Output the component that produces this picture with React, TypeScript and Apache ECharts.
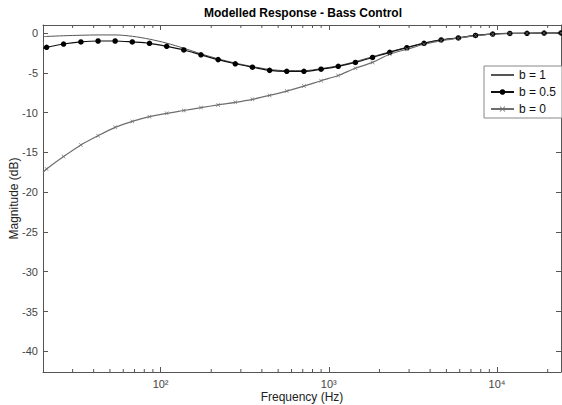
import React, { useEffect, useRef } from "react";
import * as echarts from "echarts";

// Frequencies (Hz) of the plotted marker points
const freqs = [
  21.0, 26.5, 33.6, 42.5, 53.7, 67.9, 85.9, 108.7, 137.4, 173.8, 219.8, 278.0,
  351.6, 444.6, 562.3, 711.2, 899.5, 1137.6, 1438.8, 1819.7, 2301.4, 2910.7,
  3681.3, 4655.9, 5888.4, 7447.3, 9418.9, 11912, 15066, 19055, 24000,
];

// Line start (left edge of the axes) — no marker drawn there
const startFreq = 20;
const startB1 = -0.47;
const startB05 = -1.93;
const startB0 = -17.5;

// Magnitude (dB) for each control setting
const magB1 = [
  -0.44, -0.35, -0.29, -0.25, -0.25, -0.42, -0.78, -1.28, -1.92, -2.62, -3.25,
  -3.78, -4.22, -4.58, -4.74, -4.74, -4.48, -4.12, -3.6, -2.98, -2.37, -1.8,
  -1.26, -0.85, -0.6, -0.28, -0.12, -0.05, -0.03, -0.01, 0,
];
const magB05 = [
  -1.8, -1.39, -1.13, -1.01, -1.01, -1.13, -1.3, -1.68, -2.14, -2.75, -3.35,
  -3.87, -4.3, -4.7, -4.82, -4.82, -4.55, -4.19, -3.7, -3.08, -2.43, -1.85,
  -1.3, -0.88, -0.63, -0.31, -0.14, -0.06, -0.04, -0.01, 0,
];
const magB0 = [
  -17.09, -15.53, -14.07, -12.91, -11.86, -11.11, -10.52, -10.1, -9.74, -9.38,
  -9.04, -8.72, -8.34, -7.85, -7.3, -6.68, -6.0, -5.35, -4.43, -3.7, -2.67,
  -2.05, -1.42, -0.96, -0.66, -0.33, -0.16, -0.07, -0.04, -0.01, 0,
];

const seriesNames = ["b = 1", "b = 0.5", "b = 0"];

// Axis limits and ticks
const X_MIN = 20;
const X_MAX = 24000;
const Y_MIN = -42.6;
const Y_MAX = 1;
const minorTickFreqs = [
  30, 40, 50, 60, 70, 80, 90, 200, 300, 400, 500, 600, 700, 800, 900, 2000,
  3000, 4000, 5000, 6000, 7000, 8000, 9000, 20000,
];
const supDigits: Record<number, string> = { 1: "¹", 2: "²", 3: "³", 4: "⁴" };

const FONT = "'Liberation Sans', Arial, Helvetica, sans-serif";
const AXIS_COLOR = "#555";
const LABEL_COLOR = "#444";

const xLabel = (v: number) => {
  const e = Math.round(Math.log10(v));
  if (Math.abs(v - Math.pow(10, e)) < 1e-6 * v) return "10" + (supDigits[e] || "");
  return "";
};
const yLabel = (v: number) => {
  if (Math.abs(v - Math.round(v)) < 1e-9 && Math.round(v) % 5 === 0) return String(Math.round(v));
  return "";
};

const buildSeriesData = (start: number, mags: number[]) => [
  { value: [startFreq, start], symbol: "none" },
  ...freqs.map((f, i) => [f, mags[i]]),
];

const crossPath =
  "path://M0,1 L1,0 L5,4 L9,0 L10,1 L6,5 L10,9 L9,10 L5,6 L1,10 L0,9 L4,5 Z";

export default function App() {
  const ref = useRef<HTMLDivElement>(null);

  useEffect(() => {
    document.body.style.margin = "0";
    if (!ref.current) return;
    const chart = echarts.init(ref.current, null, { renderer: "svg" });

    const commonX = {
      type: "log",
      logBase: 10,
      min: X_MIN,
      max: X_MAX,
      splitLine: { show: false },
      axisLine: { show: true, onZero: false, lineStyle: { color: AXIS_COLOR, width: 1 } },
      axisTick: { show: true, inside: true, length: 5, lineStyle: { color: AXIS_COLOR } },
    };
    const commonY = {
      type: "value",
      min: Y_MIN,
      max: Y_MAX,
      splitNumber: 9,
      splitLine: { show: false },
      axisLine: { show: true, onZero: false, lineStyle: { color: AXIS_COLOR, width: 1 } },
      axisTick: { show: true, inside: true, length: 5, lineStyle: { color: AXIS_COLOR } },
    };

    const option: any = {
      animation: false,
      backgroundColor: "#fff",
      textStyle: { fontFamily: FONT },
      graphic: [
        {
          type: "text",
          x: 303,
          y: 7,
          style: {
            text: "Modelled Response - Bass Control",
            textAlign: "center",
            fill: "#000",
            font: `bold 12px ${FONT}`,
          },
        },
      ],
      grid: { left: 43, right: 1, top: 25, bottom: 33, containLabel: false, outerBoundsMode: "none" },
      xAxis: [
        {
          ...commonX,
          position: "bottom",
          name: "Frequency (Hz)",
          nameLocation: "middle",
          nameGap: 19,
          nameMoveOverlap: false,
          nameTextStyle: { fontSize: 12, color: "#222", fontFamily: FONT },
          axisLabel: { formatter: xLabel, color: LABEL_COLOR, fontSize: 11, margin: 6, fontFamily: FONT },
        },
        {
          ...commonX,
          position: "top",
          axisLabel: { show: false },
        },
      ],
      yAxis: [
        {
          ...commonY,
          position: "left",
          name: "Magnitude (dB)",
          nameLocation: "middle",
          nameGap: 23,
          nameMoveOverlap: false,
          nameTextStyle: { fontSize: 12, color: "#222", fontFamily: FONT },
          axisLabel: { formatter: yLabel, color: LABEL_COLOR, fontSize: 11, margin: 5, fontFamily: FONT },
        },
        {
          ...commonY,
          position: "right",
          axisLabel: { show: false },
        },
      ],
      legend: {
        orient: "vertical",
        left: 484,
        top: 66,
        data: [
          { name: seriesNames[0], itemStyle: { color: "rgba(0,0,0,0)", borderColor: "rgba(0,0,0,0)", borderWidth: 0 } },
          { name: seriesNames[1] },
          { name: seriesNames[2] },
        ],
        itemWidth: 23,
        itemHeight: 7,
        itemGap: 3,
        padding: [2, 6, 2, 6],
        borderColor: "#888",
        borderWidth: 1,
        borderRadius: 0,
        backgroundColor: "#fff",
        textStyle: { fontSize: 12, color: "#111", lineHeight: 14, fontFamily: FONT },
      },
      series: [
        {
          type: "custom",
          xAxisIndex: 0,
          yAxisIndex: 0,
          silent: true,
          clip: false,
          data: minorTickFreqs.map((f) => [f, Y_MIN]),
          renderItem: (_params: any, api: any) => {
            const f = api.value(0);
            const b = api.coord([f, Y_MIN]);
            const t = api.coord([f, Y_MAX]);
            const style = { stroke: AXIS_COLOR, lineWidth: 1 };
            return {
              type: "group",
              children: [
                { type: "line", shape: { x1: b[0], y1: b[1], x2: b[0], y2: b[1] - 3 }, style },
                { type: "line", shape: { x1: t[0], y1: t[1], x2: t[0], y2: t[1] + 3 }, style },
              ],
            };
          },
        },
        {
          name: seriesNames[0],
          type: "line",
          smooth: 0.3,
          symbol: "none",
          color: "#555",
          lineStyle: { width: 1, color: "#555" },
          data: buildSeriesData(startB1, magB1),
          z: 2,
        },
        {
          name: seriesNames[1],
          type: "line",
          smooth: 0.3,
          symbol: "circle",
          symbolSize: 5.5,
          color: "#000",
          itemStyle: { color: "#000" },
          lineStyle: { width: 1.2, color: "#111" },
          data: buildSeriesData(startB05, magB05),
          z: 3,
        },
        {
          name: seriesNames[2],
          type: "line",
          smooth: 0.3,
          symbol: crossPath,
          symbolSize: 4,
          color: "#6e6e6e",
          itemStyle: { color: "#6e6e6e" },
          lineStyle: { width: 1.2, color: "#6e6e6e" },
          data: buildSeriesData(startB0, magB0),
          z: 3,
        },
      ],
    };

    chart.setOption(option);
    return () => chart.dispose();
  }, []);

  return <div ref={ref} style={{ width: 562, height: 405 }} />;
}
